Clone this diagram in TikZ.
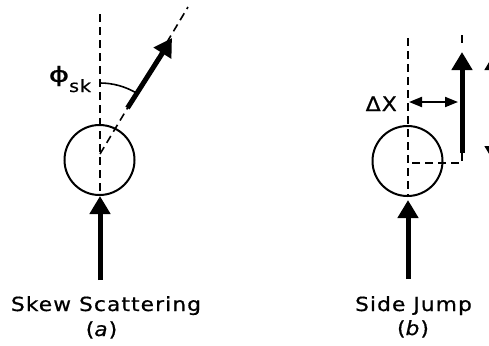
\documentclass[tikz,border=0pt]{standalone}
\usepackage{fontspec}
\setmainfont{DejaVu Sans}
\newfontfamily\lettering[LetterSpace=5,FakeBold=0.6]{DejaVu Sans}
\usetikzlibrary{arrows.meta}
\newcommand{\wide}[1]{\scalebox{1.12}[1]{#1}}
\begin{document}
\begin{tikzpicture}[x=1bp,y=-1bp,
  dashline/.style={line width=1.6bp, dash pattern=on 8bp off 5bp},
  beam/.style={line width=5bp, -{Triangle[width=20bp,length=18bp]}},
  dbeam/.style={line width=5bp, {Triangle[width=20bp,length=18bp]}-{Triangle[width=20bp,length=18bp]}},
  shift arrow/.style={line width=2bp, {Triangle[width=10bp,length=13bp]}-{Triangle[width=10bp,length=13bp]}},
  target/.style={circle, draw, line width=2bp, minimum size=70bp, inner sep=0pt},
  lbl/.style={font=\lettering\fontsize{19.5}{22}\selectfont, inner sep=0pt, anchor=base},
]
\useasboundingbox (0,0) rectangle (489,345);
% ---------- (a) skew scattering ----------
\node[target] (ca) at (99.5,160) {};
\coordinate (atop) at (100,14);
\coordinate (abot) at (100,195);
\coordinate (ao) at (100,154);
\coordinate (aend) at (188,7);
\coordinate (ain) at (100,280);
\coordinate (ainTip) at (100,196);
\coordinate (aoutS) at (127.5,108);
\coordinate (aoutT) at (172,38);
\draw[dashline] (atop) -- (abot);
\draw[dashline] (ao) -- (aend);
\draw[beam] (ain) -- (ainTip);
\draw[beam] (aoutS) -- (aoutT);
\draw[line width=1.6bp] (100,83) arc[start angle=-90, end angle=-59, radius=71];
\node[inner sep=0pt, font=\lettering\fontsize{21}{24}\selectfont] (phi) at (59,76) {\scalebox{1.5}[1]{ϕ}};
\node[inner sep=0pt, anchor=base west, font=\lettering\fontsize{17}{19}\selectfont] (sk) at (69,92) {\wide{sk}};
\node[lbl] (ta) at (106,311) {\wide{Skew Scattering}};
\node[lbl] (la) at (101.5,336) {\wide{(\textit{a})}};
% ---------- (b) side jump ----------
\node[target] (cb) at (407.5,161) {};
\coordinate (btop) at (408,38);
\coordinate (bbot) at (408,195);
\coordinate (bin) at (408,279);
\coordinate (binTip) at (408,200);
\coordinate (b2top) at (462,35);
\coordinate (b2a) at (462,47);
\coordinate (boutS) at (462,153);
\coordinate (boutT) at (462,52);
\coordinate (bcorner) at (462,163);
\coordinate (bmid) at (411,163);
\coordinate (dl) at (409,102);
\coordinate (dr) at (458,102);
\draw[dashline] (btop) -- (bbot);
\draw[dashline] (b2top) -- (b2a);
\draw[dashline] (boutS) -- (bcorner) -- (bmid);
\draw[beam] (bin) -- (binTip);
\draw[beam] (boutS) -- (boutT);
\draw[shift arrow] (dl) -- (dr);
\node[inner sep=0pt, anchor=base east, font=\lettering\fontsize{20}{22}\selectfont] (dx) at (397,111) {\scalebox{1.1}[1]{ΔX}};
\node[lbl] (tb) at (413.5,311) {\wide{Side Jump}};
\node[lbl] (lb) at (413,335) {\wide{(\textit{b})}};
% ---------- cropped neighbour at right edge ----------
\coordinate (rt) at (495,52);
\coordinate (rb) at (495,164);
\draw[dbeam] (rb) -- (rt);
\end{tikzpicture}
\end{document}
